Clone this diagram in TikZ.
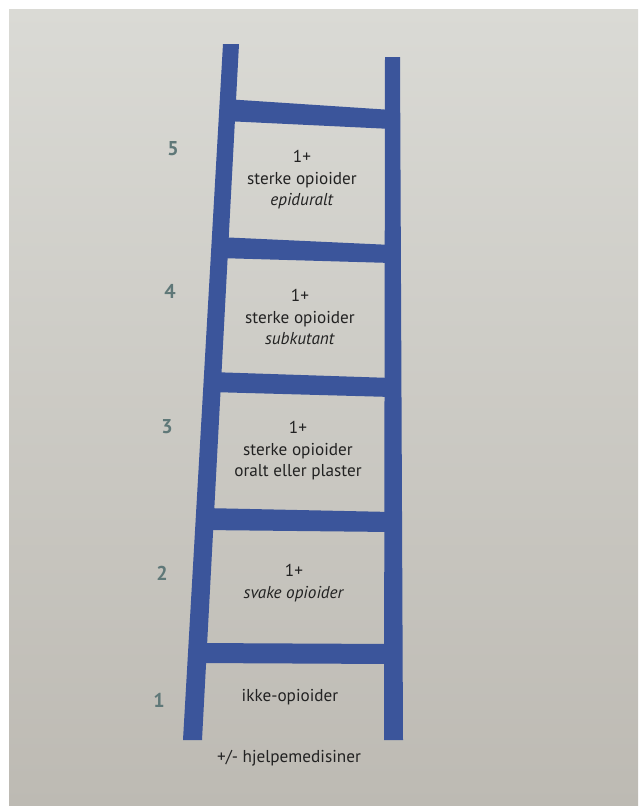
\documentclass[tikz,border=0pt]{standalone}
\usepackage{fontspec}
\setmainfont{PT Sans}
\definecolor{ladder}{HTML}{3B559B}
\definecolor{numc}{HTML}{5F7878}
\definecolor{txt}{HTML}{222222}
\definecolor{bgtop}{HTML}{DADAD5}
\definecolor{bgbot}{HTML}{BDBAB3}
\begin{document}
\begin{tikzpicture}[x=1pt,y=-1pt,
  rail/.style={fill=ladder,draw=none},
  num/.style={font=\fontsize{20}{20}\selectfont\bfseries,text=numc,inner sep=0pt},
  lbl/.style={font=\fontsize{17.2}{21.5}\selectfont,text=txt,align=center,inner sep=0pt}]
\useasboundingbox (0,0) rectangle (638,806);
\fill[white] (0,0) rectangle (638,806);
\shade[top color=bgtop,bottom color=bgbot] (9,9) rectangle (638,806);
% rails
\fill[rail] (223,44) -- (239,44) -- (202,740) -- (183,740) -- cycle;
\fill[rail] (385,57) -- (400,57) -- (403,740) -- (384,740) -- cycle;
% rungs
\fill[rail] (225,99) -- (392,110) -- (392,129) -- (225,121) -- cycle;
\fill[rail] (218,237) -- (392,245) -- (392,263) -- (218,258) -- cycle;
\fill[rail] (210,372) -- (392,378) -- (392,397) -- (210,392) -- cycle;
\fill[rail] (203,508) -- (392,512) -- (392,532) -- (203,530) -- cycle;
\fill[rail] (196,643) -- (392,644) -- (392,664) -- (196,663) -- cycle;
% numbers
\node[num] (n5) at (173,149) {5};
\node[num] (n4) at (170,291) {4};
\node[num] (n3) at (167,427) {3};
\node[num] (n2) at (162,573) {2};
\node[num] (n1) at (159,700) {1};
% labels
\node[lbl] (s5) at (302,180) {1+\\sterke opioider\\\textit{epiduralt}};
\node[lbl] (s4) at (300,317) {1+\\sterke opioider\\\textit{subkutant}};
\node[lbl] (s3) at (298,451) {1+\\sterke opioider\\oralt eller plaster};
\node[lbl] (s2) at (294,583) {1+\\\textit{svake opioider}};
\node[lbl] (s1) at (290,697) {ikke-opioider};
\node[lbl] (h) at (289,758) {+/- hjelpemedisiner};
\end{tikzpicture}
\end{document}
